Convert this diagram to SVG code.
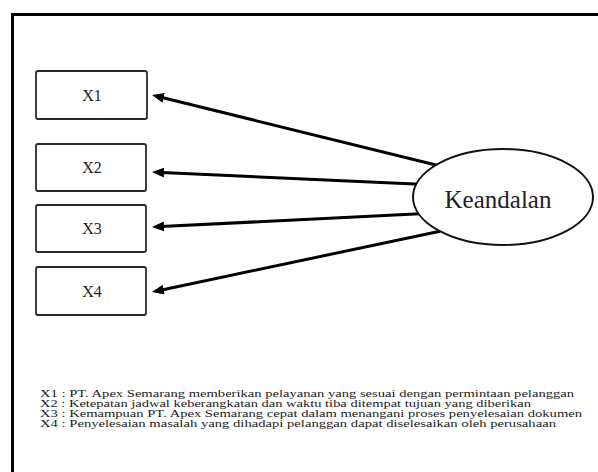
<svg xmlns="http://www.w3.org/2000/svg" width="598" height="472" viewBox="0 0 598 472">
<style>
.box{fill:#fff;stroke:#2a2a2a;stroke-width:1.8}
.lbl{font-family:"Liberation Serif","DejaVu Serif",serif;fill:#222;text-anchor:middle}
.edge{stroke:#000;stroke-width:3;fill:none;marker-end:url(#ah)}
.leg{font-family:"Liberation Serif","DejaVu Serif",serif;font-size:9.5px;fill:#222}
</style>
<defs>
<marker id="ah" markerUnits="userSpaceOnUse" markerWidth="14" markerHeight="12" refX="8" refY="5" orient="auto" viewBox="0 0 14 12">
<path d="M0,0 L12,5 L0,10 z" fill="#000"/>
</marker>
</defs>
<rect width="598" height="472" fill="#fff"/>
<g id="frame">
<line x1="12.5" y1="14.5" x2="598" y2="14.5" stroke="#000" stroke-width="3"/>
<line x1="12.5" y1="13" x2="12.5" y2="472" stroke="#000" stroke-width="3"/>
</g>
<g id="connectors">
<line class="edge" x1="440" y1="166" x2="155.9" y2="96"/>
<line class="edge" x1="420" y1="184.2" x2="156" y2="172.2"/>
<line class="edge" x1="420" y1="213.8" x2="156" y2="226.8"/>
<line class="edge" x1="440" y1="231.2" x2="155.9" y2="291.2"/>
</g>
<g id="x1"><rect class="box" x="36" y="71" width="111" height="48" rx="2"/><text class="lbl" x="92" y="101" font-size="16">X1</text></g>
<g id="x2"><rect class="box" x="36" y="144" width="110" height="47" rx="2"/><text class="lbl" x="92" y="173" font-size="16">X2</text></g>
<g id="x3"><rect class="box" x="36" y="205" width="110" height="47" rx="2"/><text class="lbl" x="92" y="234" font-size="16">X3</text></g>
<g id="x4"><rect class="box" x="36" y="267" width="110" height="48" rx="2"/><text class="lbl" x="92" y="297" font-size="16">X4</text></g>
<g id="keandalan">
<ellipse cx="503" cy="197" rx="90" ry="48" fill="#fff" stroke="#111" stroke-width="2"/>
<text class="lbl" x="498" y="208" font-size="25" fill="#111">Keandalan</text>
</g>
<g id="legend">
<text class="leg" x="40" y="397" textLength="534" lengthAdjust="spacingAndGlyphs">X1 : PT. Apex Semarang memberikan pelayanan yang sesuai dengan permintaan pelanggan</text>
<text class="leg" x="40" y="407" textLength="491" lengthAdjust="spacingAndGlyphs">X2 : Ketepatan jadwal keberangkatan dan waktu tiba ditempat tujuan yang diberikan</text>
<text class="leg" x="40" y="417" textLength="542" lengthAdjust="spacingAndGlyphs">X3 : Kemampuan PT. Apex Semarang cepat dalam menangani proses penyelesaian dokumen</text>
<text class="leg" x="40" y="427" textLength="516" lengthAdjust="spacingAndGlyphs">X4 : Penyelesaian masalah yang dihadapi pelanggan dapat diselesaikan oleh perusahaan</text>
</g>
</svg>
